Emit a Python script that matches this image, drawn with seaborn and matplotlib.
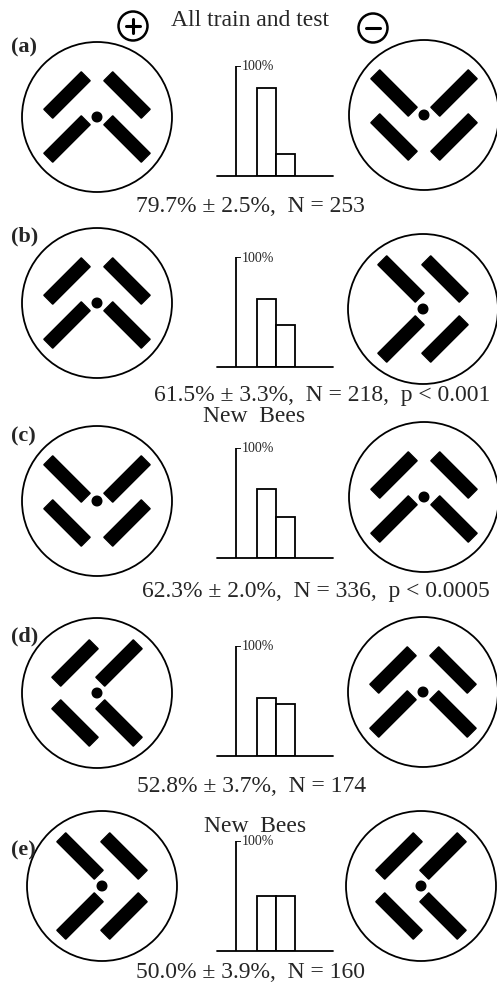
import numpy as np
import pandas as pd
import seaborn as sns
import matplotlib.pyplot as plt
from matplotlib.patches import Circle, Polygon

# data
panels = ['(a)', '(b)', '(c)', '(d)', '(e)']
choices = ['+', '-']
pct_plus = [79.7, 61.5, 62.3, 52.8, 50.0]
pct_minus = [20.3, 38.5, 37.7, 47.2, 50.0]
sem = [2.5, 3.3, 2.0, 3.7, 3.9]
n_visits = [253, 218, 336, 174, 160]
p_text = ['', 'p < 0.001', 'p < 0.0005', '', '']
headings = ['All train and test', '', 'New  Bees', '', 'New  Bees']
left_pattern = ['up', 'up', 'down', 'left', 'right']
right_pattern = ['down', 'right', 'up', 'up', 'left']

W, H = 497, 987
sns.set_style('white')
plt.rcParams['font.family'] = ['Liberation Serif', 'DejaVu Serif']

fig = plt.figure(figsize=(W / 100, H / 100), dpi=100)
bg = fig.add_axes([0, 0, 1, 1])
bg.set_xlim(0, W)
bg.set_ylim(H, 0)
bg.axis('off')

# layout in pixels
left_c = [(97, 118), (97, 304), (97, 502), (97, 694), (102, 887)]
right_c = [(424, 116), (423, 310), (424, 498), (423, 693), (421, 887)]
bar_base = [177, 368, 559, 757, 952]
cap_xy = [(250, 207), (322, 395), (316, 592), (252, 786), (251, 972)]
head_xy = [(250, 20), None, (254, 416), None, (255, 826)]
label_y = [47, 236, 436, 636, 850]

rot = {
    'up': lambda x, y: (x, y),
    'right': lambda x, y: (-y, x),
    'down': lambda x, y: (-x, -y),
    'left': lambda x, y: (y, -x),
}


def draw_stimulus(ax, cx, cy, direction, r=75):
    ax.add_patch(Circle((cx, cy), r, fill=False, lw=1.3, color='black'))
    ax.add_patch(Circle((cx, cy), 4.8, color='black'))
    f = rot[direction]
    # base chevron pointing up (screen coords, y down)
    base = [((-30, -22), (1, -1)), ((30, -22), (1, 1)),
            ((-30, 22), (1, -1)), ((30, 22), (1, 1))]
    for (bx, by), (ux, uy) in base:
        px, py = f(bx, by)
        dx, dy = f(ux, uy)
        u = np.array([dx, dy]) / np.hypot(dx, dy)
        nrm = np.array([-u[1], u[0]])
        c = np.array([cx + px, cy + py])
        pts = [c + u * 26.5 + nrm * 6.3, c - u * 26.5 + nrm * 6.3,
               c - u * 26.5 - nrm * 6.3, c + u * 26.5 - nrm * 6.3]
        ax.add_patch(Polygon(pts, closed=True, color='black'))


for i in range(len(panels)):
    draw_stimulus(bg, *left_c[i], left_pattern[i])
    draw_stimulus(bg, *right_c[i], right_pattern[i])

    bg.text(11, label_y[i], panels[i], fontsize=16, fontweight='bold',
            ha='left', va='center')

    cap = f'{pct_plus[i]:.1f}% ± {sem[i]:.1f}%,  N = {n_visits[i]}'
    if p_text[i]:
        cap += ',  ' + p_text[i]
    bg.text(cap_xy[i][0], cap_xy[i][1], cap, fontsize=17,
            ha='center', va='center')

    if head_xy[i]:
        bg.text(head_xy[i][0], head_xy[i][1], headings[i], fontsize=17,
                ha='center', va='center')

    # bar chart
    y1 = bar_base[i]
    ax = fig.add_axes([217 / W, 1 - y1 / H, 116 / W, 110 / H])
    df = pd.DataFrame({'choice': choices,
                       'pct': [pct_plus[i], pct_minus[i]]})
    sns.barplot(data=df, x='choice', y='pct', color='white',
                edgecolor='black', linewidth=1.3, width=1.0,
                errorbar=None, ax=ax)
    ax.set_xlim(-2.6, 3.5)
    ax.set_ylim(0, 100)
    ax.vlines(-1.6, 0, 100, color='black', lw=1.3)
    ax.hlines(100, -1.6, -1.35, color='black', lw=1.3)
    ax.text(-1.3, 100, '100%', fontsize=10, ha='left', va='center')
    ax.axis('off')
    ax.axhline(0, color='black', lw=1.3, clip_on=False)
    ax.patch.set_alpha(0)

# plus / minus markers
for (mx, my), sign in [((133, 27), '+'), ((373, 29), '-')]:
    bg.add_patch(Circle((mx, my), 14.5, fill=False, lw=1.8, color='black'))
    bg.plot([mx - 7, mx + 7], [my, my], color='black', lw=2.2)
    if sign == '+':
        bg.plot([mx, mx], [my - 7, my + 7], color='black', lw=2.2)

fig.savefig('out.png', dpi=100)
